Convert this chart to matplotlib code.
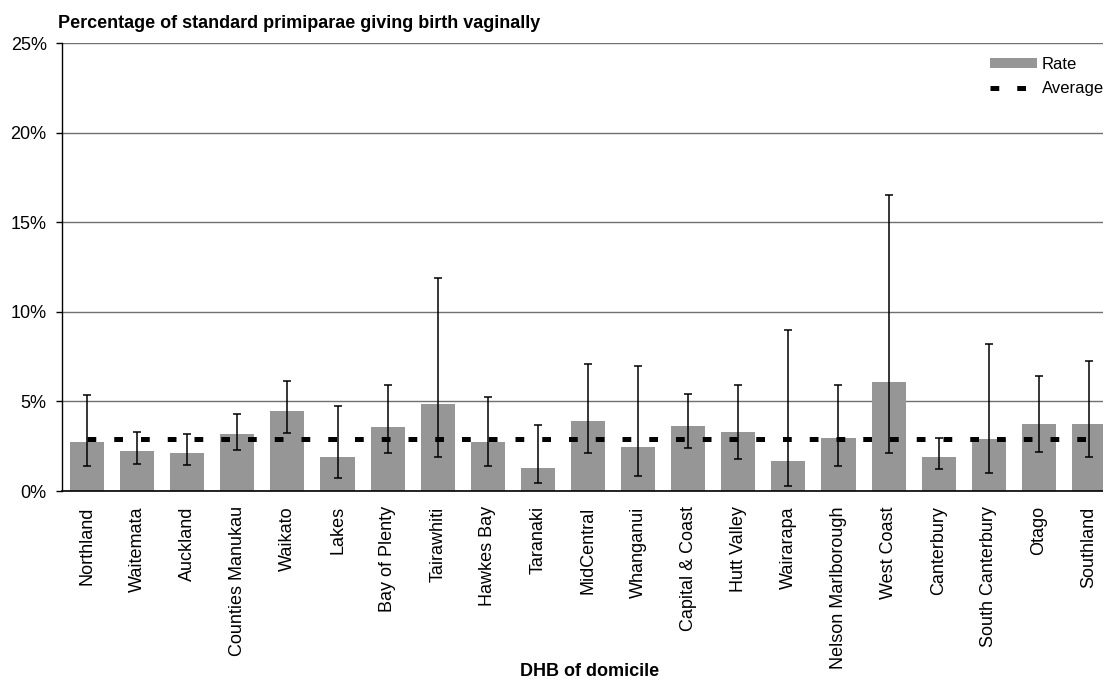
import matplotlib
matplotlib.use('Agg')
import matplotlib.pyplot as plt
import numpy as np
from matplotlib.ticker import FuncFormatter, MultipleLocator

plt.rcParams['font.family'] = ['Liberation Sans', 'DejaVu Sans']

# data (percent)
dhbs = ['Northland', 'Waitemata', 'Auckland', 'Counties Manukau', 'Waikato',
        'Lakes', 'Bay of Plenty', 'Tairawhiti', 'Hawkes Bay', 'Taranaki',
        'MidCentral', 'Whanganui', 'Capital & Coast', 'Hutt Valley',
        'Wairarapa', 'Nelson Marlborough', 'West Coast', 'Canterbury',
        'South Canterbury', 'Otago', 'Southland']
rate = [2.74, 2.23, 2.12, 3.18, 4.47, 1.90, 3.58, 4.86, 2.74, 1.28, 3.91,
        2.46, 3.63, 3.30, 1.68, 2.96, 6.09, 1.90, 2.90, 3.74, 3.74]
ci_low = [1.41, 1.53, 1.43, 2.31, 3.26, 0.73, 2.14, 1.92, 1.38, 0.45, 2.14,
          0.84, 2.40, 1.79, 0.30, 1.41, 2.10, 1.23, 1.01, 2.15, 1.92]
ci_high = [5.36, 3.30, 3.20, 4.32, 6.16, 4.77, 5.94, 11.88, 5.27, 3.70, 7.06,
           6.98, 5.44, 5.94, 8.99, 5.94, 16.52, 2.98, 8.23, 6.44, 7.27]
average = 2.89

W, H = 1103, 679
fig = plt.figure(figsize=(W / 100, H / 100), dpi=100)
# plot area runs past the right edge of the picture, as in the original
ax = fig.add_axes([62 / W, 1 - 491 / H, 1052 / W, 448 / H])

x = np.arange(len(dhbs))
rate_a = np.array(rate)
yerr = [rate_a - np.array(ci_low), np.array(ci_high) - rate_a]

bars = ax.bar(x, rate, width=0.68, color='#969696', zorder=2, label='Rate')
ax.errorbar(x, rate, yerr=yerr, fmt='none', ecolor='black', elinewidth=1.1,
            capsize=2.8, capthick=1.1, zorder=3)
avg_line, = ax.plot(x, [average] * len(x), color='black', lw=3.6,
                    linestyle=(0, (1.75, 3.6)), zorder=4, label='Average')

ax.set_xlim(-0.5, len(dhbs) - 0.5)
ax.set_ylim(0, 25)
ax.yaxis.set_major_locator(MultipleLocator(5))
ax.yaxis.set_major_formatter(FuncFormatter(lambda v, p: '%d%%' % v))
ax.yaxis.grid(True, color='#707070', lw=1.0, zorder=0)
ax.set_axisbelow(True)

ax.set_xticks(x)
ax.set_xticklabels(dhbs, rotation=90, fontsize=13)
ax.tick_params(axis='x', length=0, pad=11)
ax.tick_params(axis='y', labelsize=13, length=4, width=1, pad=7,
               color='black')

for s in ['top', 'right']:
    ax.spines[s].set_visible(False)
ax.spines['left'].set_linewidth(1.0)
ax.spines['bottom'].set_linewidth(1.2)

fig.text(58 / W, 1 - 23 / H,
         'Percentage of standard primiparae giving birth vaginally',
         fontsize=13, fontweight='bold', va='center', ha='left')
fig.text(590 / W, 1 - 671 / H, 'DHB of domicile', fontsize=13,
         fontweight='bold', va='center', ha='center')

ax.legend(handles=[bars, avg_line], loc='upper left',
          bbox_to_anchor=(990 / W, 1 - 57 / H),
          bbox_transform=fig.transFigure, frameon=False, fontsize=12,
          borderpad=0, borderaxespad=0, handlelength=2.8,
          handletextpad=0.3, labelspacing=0.55, handleheight=0.6)

fig.savefig('out.png', dpi=100)
